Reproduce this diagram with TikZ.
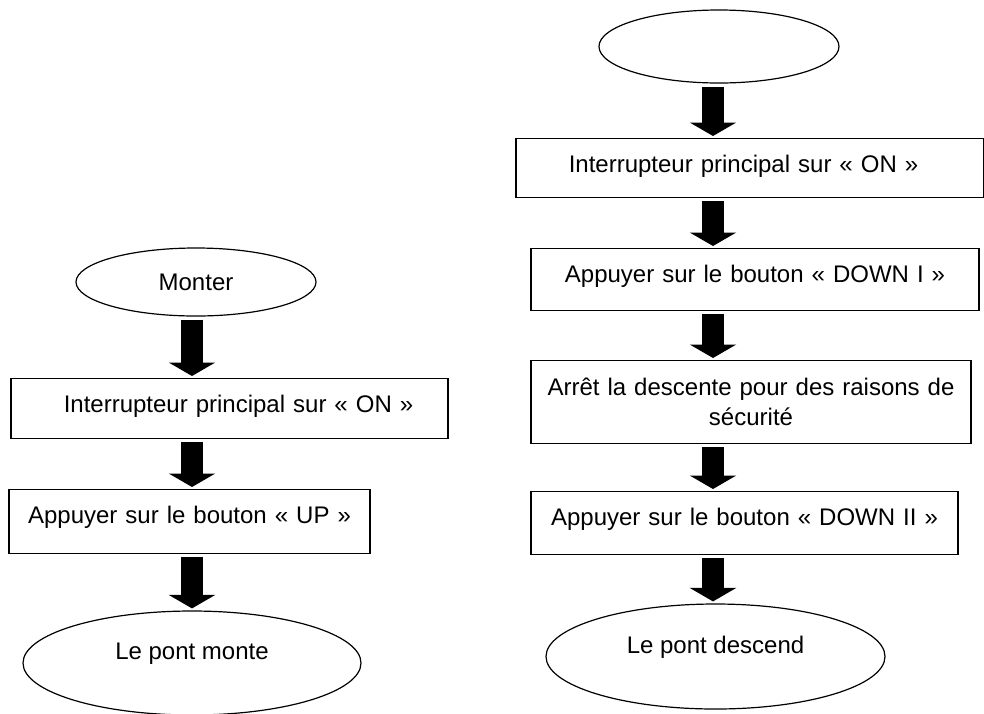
\documentclass[tikz,border=0pt]{standalone}
\usepackage{fontspec}
\setmainfont{Liberation Sans}
\usetikzlibrary{arrows.meta,positioning,shapes.geometric}

\begin{document}
\begin{tikzpicture}[x=0.5pt,y=-0.5pt,
	every node/.style={font=\fontsize{12}{15}\selectfont},
	etape/.style={draw,line width=0.7pt,rectangle,inner xsep=0pt,align=center,anchor=north},
	ligne/.style={etape,inner ysep=0pt,text height=17pt,text depth=14pt},
	bulle/.style={draw,line width=0.6pt,ellipse,inner sep=0pt},
	fleche/.style={line width=10.75pt,-{Triangle[length=6.75pt,width=23pt]},shorten <=1.5pt,shorten >=1pt}]
			\useasboundingbox (0,0) rectangle (984,713);
			\coordinate (colL) at (192,0);
			\coordinate (colR) at (713,0);
			% monter
			\node[bulle,minimum width=120pt,minimum height=34pt] (monter) at (196,282) {Monter};
			\node[ligne,text width=218.5pt,text depth=13pt] (onL) at (229.5,378) {\hspace*{9pt}Interrupteur principal sur « ON »};
			\node[ligne,text width=180.5pt,text depth=15pt] (up) at (189.5,489) {Appuyer sur le bouton « UP »};
			\node[bulle,minimum width=169pt,minimum height=52pt,text height=9pt,text depth=13pt] (monte) at (192,663) {Le pont monte};
			\foreach \a/\b in {monter/onL,onL/up,up/monte}
			\draw[fleche] (\a.south -| colL) -- (\b.north -| colL);
			% descendre
			\node[bulle,minimum width=120pt,minimum height=36.5pt] (debut) at (719,46.5) {};
			\node[ligne,text width=234pt,text depth=12.5pt] (onR) at (750,138) {\hspace*{-6.5pt}Interrupteur principal sur « ON »};
			\node[ligne,text width=224pt] (down1) at (755,248) {Appuyer sur le bouton « DOWN I »};
			\node[etape,text width=220pt,minimum height=41.5pt] (arret) at (751,360) {Arrêt la descente pour des raisons de\\sécurité};
			\node[ligne,text width=213.5pt,text depth=14.5pt] (down2) at (744.5,491) {Appuyer sur le bouton « DOWN II »};
			\node[bulle,minimum width=169.5pt,minimum height=52.5pt,text height=9pt,text depth=12.5pt] (descend) at (715.5,656.5) {Le pont descend};
			\foreach \a/\b in {debut/onR,onR/down1,down1/arret,arret/down2,down2/descend}
			\draw[fleche] (\a.south -| colR) -- (\b.north -| colR);
\end{tikzpicture}
\end{document}
